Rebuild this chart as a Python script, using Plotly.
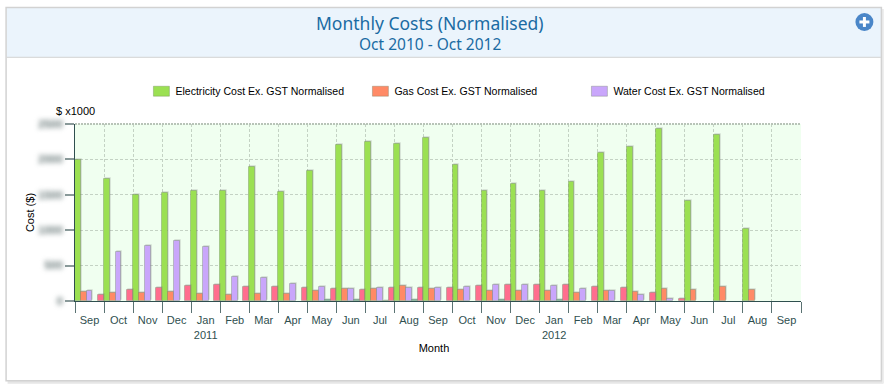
import plotly.graph_objects as go

months = ["Sep","Oct","Nov","Dec","Jan","Feb","Mar","Apr","May","Jun","Jul","Aug",
          "Sep","Oct","Nov","Dec","Jan","Feb","Mar","Apr","May","Jun","Jul","Aug","Sep"]
years = ["2010"]*4 + ["2011"]*12 + ["2012"]*9
electricity = [1993,1730,1504,1532,1560,1556,1889,1546,1842,2209,2240,2214,2308,1927,1560,1650,1560,1683,2087,2181,2435,1410,2345,1015,0]
gas = [122,108,113,122,94,80,103,94,136,174,174,216,169,150,136,136,141,108,141,127,169,155,193,155,0]
water = [141,691,771,846,761,343,324,235,202,165,188,188,183,197,221,221,207,169,141,89,28,0,0,0,0]
other_a = [0,0,0,0,0,0,0,0,9,9,5,9,0,0,9,5,9,0,0,0,0,0,0,0,0]
other_b = [80,155,183,211,221,193,197,183,169,160,183,188,188,207,221,230,221,202,183,108,28,0,0,0,0]

series = [
    ("Electricity Cost Ex. GST Normalised", electricity, "#9be052", True),
    ("Gas Cost Ex. GST Normalised", gas, "#ff8a66", True),
    ("Water Cost Ex. GST Normalised", water, "#c9a6fb", True),
    ("Other A", other_a, "#5aa890", False),
    ("Other B", other_b, "#ff6e8e", False),
]

W, H = 890, 392
L, R, T, B = 74.5, 88.5, 123.5, 90.7
PW, PH = W - L - R, H - T - B
px = lambda v: (v - L) / PW
py = lambda v: 1 - (v - T) / PH

cats = [f"{m} {y} #{i}" for i, (m, y) in enumerate(zip(months, years))]
ticktext = [m if i not in (4, 16) else f"{m}<br>{ {4:'2011',16:'2012'}[i] }" for i, m in enumerate(months)]

fig = go.Figure()
for name, vals, color, inleg in series:
    fig.add_bar(x=cats, y=[v if v else None for v in vals], name=name, showlegend=inleg,
                marker=dict(color=color, line=dict(color="rgba(90,110,80,0.3)", width=1)))

def rect(x0, y0, x1, y1, **kw):
    return dict(type="rect", xref="paper", yref="paper", x0=px(x0), x1=px(x1), y0=py(y0), y1=py(y1), layer="below", **kw)
def line(x0, y0, x1, y1, color, width, layer="below"):
    return dict(type="line", xref="paper", yref="paper", x0=px(x0), x1=px(x1), y0=py(y0), y1=py(y1), layer=layer,
                line=dict(color=color, width=width))

shapes = [
    line(7, 383, 884, 383, "#e6e6e6", 3),
    line(883.5, 8, 883.5, 384, "#ececec", 2),
    rect(6, 7, 881.5, 56.5, fillcolor="#ebf4fc", line=dict(width=0)),
    line(6, 56.5, 881.5, 56.5, "#d2d2d2", 1),
    rect(5.5, 6.5, 882, 381.5, fillcolor="rgba(0,0,0,0)", line=dict(color="#d2d2d2", width=1.5)),
    dict(type="line", xref="paper", yref="paper", x0=0, x1=1, y0=1, y1=1, layer="above",
         line=dict(color="#b8c4b8", width=2, dash="2px,1px")),
    dict(type="circle", xref="paper", yref="paper", x0=px(856), x1=px(874), y0=py(12), y1=py(30),
         fillcolor="#4a86c8", line=dict(width=0), layer="above"),
    line(860, 21, 870, 21, "white", 3, "above"),
    line(865, 16, 865, 26, "white", 3, "above"),
]

fig.update_layout(
    width=W, height=H, autosize=False,
    margin=dict(l=L, r=R, t=T, b=B, autoexpand=False),
    paper_bgcolor="white", plot_bgcolor="#f0fff0",
    barmode="group", bargap=0, bargroupgap=0,
    font=dict(family="Liberation Sans, Arial, sans-serif", size=11, color="black"),
    shapes=shapes,
    legend=dict(orientation="h", x=px(135), y=py(76), xanchor="left", yanchor="top",
                entrywidth=174, entrywidthmode="pixels", bgcolor="rgba(0,0,0,0)",
                font=dict(size=10.55), traceorder="normal", itemclick=False),
    annotations=[
        dict(text="Monthly Costs (Normalised)", xref="paper", yref="paper", x=px(430), y=py(22), showarrow=False,
             font=dict(family="Noto Sans", size=17.5, color="#1a6ba3"), xanchor="center", yanchor="middle"),
        dict(text="Oct 2010 - Oct 2012", xref="paper", yref="paper", x=px(430), y=py(43.5), showarrow=False,
             font=dict(family="Noto Sans", size=15.5, color="#1a6ba3"), xanchor="center", yanchor="middle"),
        dict(text="$ x1000", xref="paper", yref="paper", x=px(53), y=py(110), showarrow=False,
             font=dict(size=11), xanchor="left", yanchor="middle"),
    ],
    xaxis=dict(
        type="category", categoryorder="array", categoryarray=cats,
        tickmode="array", tickvals=cats, ticktext=ticktext, tickson="boundaries",
        ticks="outside", ticklen=11, tickcolor="#5a7272", tickwidth=1, tickangle=0,
        ticklabelstandoff=9,
        tickfont=dict(size=11, color="#2f4f4f"),
        showline=True, linecolor="#2f4f4f", linewidth=1,
        showgrid=True, gridcolor="#c4d2c4", griddash="3px,2px", gridwidth=1,
        title=dict(text="Month", font=dict(size=11), standoff=4),
        range=[-0.5, 24.5], fixedrange=True,
    ),
    yaxis=dict(
        range=[0, 2500], tickmode="array", tickvals=[0,500,1000,1500,2000,2500],
        ticks="outside", ticklen=9, tickcolor="#8a9a9a", tickwidth=1.5,
        tickfont=dict(size=11, color="#6a7a7a"),
        showline=True, linecolor="#2f4f4f", linewidth=1,
        showgrid=True, gridcolor="#c4d2c4", griddash="3px,2px", gridwidth=1,
        zeroline=False,
        title=dict(text="Cost ($)", font=dict(size=11), standoff=1),
        fixedrange=True,
    ),
)

post = """
document.body.style.margin = '0';
document.documentElement.style.overflow = 'hidden';
var gd = document.getElementById('{plot_id}');
gd.querySelectorAll('.ytick text').forEach(function(t){ t.style.filter='blur(2.5px)'; t.style.fontWeight='bold'; });
gd.querySelectorAll('.bars .point path').forEach(function(p){ p.style.filter='drop-shadow(1.5px -1px 0.5px rgba(120,120,120,0.3))'; });
gd.querySelectorAll('.legendpoints path').forEach(function(p){ p.setAttribute('d','M14,5H-2V-5H14Z'); });
var xt = gd.querySelector('.g-xtitle text');
if (xt) { xt.setAttribute('x', parseFloat(xt.getAttribute('x')) - 4); }
"""
fig.write_html("out.html", post_script=post, config=dict(displayModeBar=False))
